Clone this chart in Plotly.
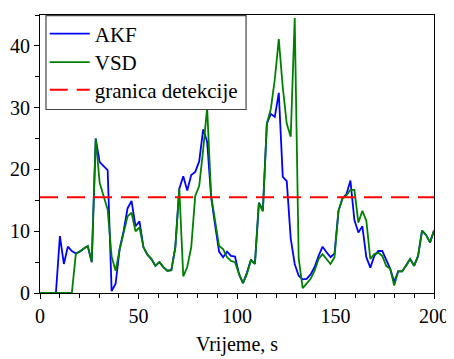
import numpy as np
import plotly.graph_objects as go

vrijeme = np.linspace(0, 200, 100)

akf = [0, 0, 0, 0, 0, 9.2, 4.7, 7.5, 6.8, 6.4,
       6.7, 7.2, 7.6, 5.0, 25.0, 21.2, 20.6, 19.9, 0.3, 1.5,
       7.1, 10.0, 13.7, 14.9, 10.8, 11.6, 7.4, 6.2, 5.5, 4.4,
       5.0, 4.2, 3.6, 3.7, 7.4, 16.9, 18.9, 16.6, 19.1, 19.6,
       21.3, 26.5, 24.5, 15.5, 11.0, 6.7, 5.8, 6.7, 6.0, 5.9,
       3.1, 1.6, 3.3, 5.4, 4.7, 14.6, 13.4, 27.4, 29.0, 28.5,
       32.4, 18.8, 18.1, 8.8, 4.7, 2.8, 2.2, 2.3, 3.0, 4.2,
       6.0, 7.5, 6.6, 5.8, 6.4, 13.3, 15.3, 16.0, 18.2, 11.8,
       9.8, 10.8, 5.8, 4.1, 6.0, 6.8, 6.8, 5.2, 3.9, 1.8,
       3.5, 3.5, 4.4, 5.5, 4.4, 6.0, 10.1, 9.4, 8.2, 10.1]

vsd = [0, 0, 0, 0, 0, 0, 0, 0, 0, 6.3,
       6.7, 7.2, 7.6, 5.0, 25.0, 17.8, 15.5, 13.5, 5.9, 3.6,
       7.0, 9.5, 12.4, 13.0, 10.0, 10.6, 7.4, 6.2, 5.5, 4.4,
       5.0, 4.2, 3.6, 3.7, 7.4, 16.9, 2.7, 4.2, 7.4, 15.7,
       17.3, 23.2, 30.0, 15.8, 11.6, 7.6, 7.1, 5.8, 5.2, 5.0,
       3.1, 1.6, 3.1, 5.3, 4.7, 14.6, 13.2, 27.4, 29.8, 34.6,
       41.1, 33.3, 27.4, 25.3, 44.5, 5.6, 0.8, 1.5, 2.3, 3.6,
       5.5, 6.3, 5.5, 4.7, 5.8, 13.3, 15.3, 15.8, 16.7, 16.7,
       11.4, 13.3, 11.7, 5.5, 6.3, 6.5, 6.0, 4.4, 3.9, 1.2,
       3.5, 3.5, 4.4, 5.5, 4.4, 6.0, 10.1, 9.4, 8.2, 10.1]

granica = 15.5
granica_x = [0, 200]

FONT = "Liberation Serif"
tf = dict(family=FONT, size=20, color="black")
lf = dict(family=FONT, size=21, color="black")

fig = go.Figure()
fig.add_trace(go.Scatter(x=vrijeme, y=akf, mode="lines", name="AKF",
                         line=dict(color="#0000ff", width=1.8), legend="legend"))
fig.add_trace(go.Scatter(x=vrijeme, y=vsd, mode="lines", name="VSD",
                         line=dict(color="#008000", width=1.8), legend="legend2"))
fig.add_trace(go.Scatter(x=granica_x, y=[granica, granica], mode="lines",
                         name="granica detekcije", legend="legend3",
                         line=dict(color="#ff0000", width=2, dash="18px,9px")))

# legend frame (drawn as a shape so its size can match the reference)
fig.add_shape(type="rect", xref="paper", yref="paper",
              x0=0.0152, x1=0.523, y0=0.66, y1=0.9975,
              line=dict(color="#444444", width=1.2), fillcolor="white",
              layer="above")

leg_common = dict(x=0.012, xanchor="left", yanchor="middle",
                  bgcolor="rgba(0,0,0,0)", borderwidth=0, font=lf, itemwidth=40)

fig.update_layout(
    template="none",
    width=446, height=351,
    margin=dict(l=32, r=20, t=5, b=66, pad=0),
    paper_bgcolor="white", plot_bgcolor="white",
    font=tf,
    showlegend=True,
    legend=dict(y=0.932, **leg_common),
    legend2=dict(y=0.829, **leg_common),
    legend3=dict(y=0.730, **leg_common),
    xaxis=dict(range=[0, 200], showgrid=False, zeroline=False, automargin=False,
               showline=True, linecolor="black", linewidth=1.2, mirror=True,
               ticks="outside", ticklen=5, tickcolor="black", tickwidth=1,
               dtick=50, tick0=0, tickfont=tf,
               minor=dict(dtick=10, ticks="outside", ticklen=4, tickcolor="black"),
               title=dict(text="Vrijeme, s", font=tf, standoff=10)),
    yaxis=dict(range=[0, 45], showgrid=False, zeroline=False, automargin=False,
               showline=True, linecolor="black", linewidth=1.2, mirror=True,
               ticks="outside", ticklen=5, tickcolor="black", tickwidth=1,
               dtick=10, tick0=0, tickfont=tf,
               minor=dict(dtick=5, ticks="outside", ticklen=4, tickcolor="black")),
)

fig.write_html("out.html")
